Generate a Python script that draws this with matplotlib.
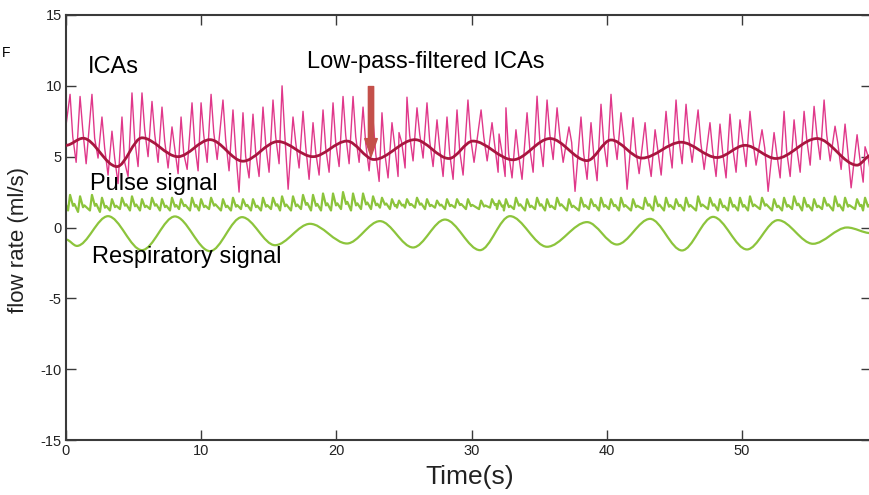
import matplotlib
matplotlib.use("Agg")
import matplotlib.pyplot as plt
from matplotlib.path import Path
from matplotlib.patches import PathPatch

plt.rcParams['font.family'] = ['Liberation Sans Narrow', 'Liberation Sans', 'DejaVu Sans']

# ---------------- data ----------------
# heart-beat (spike) times in seconds
beat_t = [0.30, 1.04, 1.92, 2.66, 3.40, 4.14, 4.88, 5.62, 6.36, 7.10, 7.84, 8.51, 9.32,
          9.99, 10.73, 11.61, 12.35, 13.09, 13.83, 14.57, 15.31, 15.98, 16.79, 17.53, 18.27, 19.01,
          19.75, 20.49, 21.23, 21.97, 22.71, 23.37, 24.11, 24.63, 25.22, 25.96, 26.70, 27.44, 28.18, 28.92,
          29.73, 30.70, 31.51, 32.03, 32.54, 33.28, 34.10, 34.84, 35.58, 36.32, 37.20, 38.09, 38.83,
          39.57, 40.31, 41.05, 41.94, 42.83, 43.57, 44.38, 45.12, 45.86, 46.75, 47.63, 48.37, 49.11,
          49.85, 50.59, 51.48, 52.37, 53.11, 53.85, 54.59, 55.33, 56.07, 56.88, 57.62, 58.51, 59.10]

ica_start = 7.2
ica_peak = [9.4, 9.25, 9.4, 7.8, 6.8, 7.8, 9.5, 9.5, 8.9, 8.5, 7.1, 7.8, 8.8,
            8.8, 9.4, 9.0, 8.3, 8.1, 8.0, 8.5, 9.0, 10.0, 7.8, 8.2, 7.4, 8.3,
            8.8, 9.25, 9.25, 8.5, 7.6, 8.1, 7.4, 6.7, 9.2, 8.45, 8.8, 7.6, 7.8, 8.3,
            9.0, 8.3, 7.4, 6.6, 8.45, 6.9, 8.1, 9.27, 9.0, 8.45, 7.1, 7.8, 7.4,
            8.7, 9.4, 8.1, 7.75, 7.4, 6.9, 8.2, 9.0, 8.7, 8.3, 7.4, 7.3, 8.0,
            7.6, 8.2, 6.9, 6.7, 8.2, 7.6, 8.2, 8.55, 9.0, 7.15, 7.3, 6.55, 5.7]
ica_mid = [6.4, 6.9, 6.3, 5.6, 4.9, 4.6, 6.2, 6.9, 6.6, 6.1, 5.6, 5.2, 5.9,
           6.5, 6.7, 6.2, 5.4, 5.0, 5.3, 5.9, 6.4, 6.6, 6.0, 5.7, 5.3, 5.6,
           6.0, 6.5, 6.4, 5.9, 5.2, 5.3, 5.8, 6.0, 6.5, 6.6, 6.1, 5.6, 5.2, 5.4,
           6.3, 6.4, 5.8, 5.4, 5.2, 5.1, 5.6, 6.2, 6.6, 6.5, 6.0, 5.2, 5.2,
           6.0, 6.6, 6.3, 5.5, 5.2, 5.5, 6.0, 6.3, 6.4, 6.0, 5.4, 5.3, 5.7,
           6.1, 6.2, 5.6, 5.2, 5.3, 5.6, 6.2, 6.6, 6.5, 6.0, 5.4, 4.9, 5.1]
ica_low = [4.6, 4.5, 4.9, 3.7, 3.1, 3.6, 4.3, 5.0, 4.6, 4.2, 3.8, 4.1, 4.0,
           4.6, 4.8, 4.0, 2.5, 3.5, 3.6, 3.9, 4.5, 2.7, 4.2, 3.4, 3.7, 3.9,
           4.3, 4.5, 4.6, 4.0, 3.25, 3.5, 3.6, 4.2, 4.7, 4.9, 4.3, 3.6, 3.4, 3.7,
           4.6, 4.7, 3.9, 3.6, 3.5, 3.4, 3.9, 4.3, 4.8, 4.6, 2.55, 3.4, 3.3,
           4.3, 4.8, 2.7, 3.8, 3.6, 3.7, 4.2, 4.5, 4.6, 4.1, 3.6, 3.5, 3.9,
           4.3, 4.4, 2.55, 3.5, 3.6, 3.9, 4.4, 4.8, 4.7, 4.1, 2.8, 3.2, 3.6]

pulse_start = 1.6
pulse_peak = [2.3, 2.2, 2.3, 2.1, 2.0, 2.1, 2.2, 2.0, 2.1, 2.0, 2.1, 2.0, 2.1,
              2.0, 2.1, 2.0, 2.1, 2.0, 2.0, 2.1, 2.1, 2.2, 2.2, 2.3, 2.3, 2.4,
              2.4, 2.5, 2.4, 2.4, 2.2, 2.1, 2.0, 1.9, 2.0, 2.1, 2.0, 1.9, 2.0, 2.0,
              2.0, 1.9, 2.0, 1.9, 2.0, 2.1, 2.0, 2.1, 2.0, 2.1, 2.0, 2.1, 2.0,
              2.1, 2.0, 2.1, 2.0, 2.1, 2.2, 2.1, 2.0, 2.1, 2.2, 2.1, 2.0, 2.1,
              2.1, 2.2, 2.1, 2.0, 2.1, 2.2, 2.1, 2.0, 2.1, 2.2, 2.1, 2.0, 2.1]
pulse_low = [1.2, 1.1, 1.2, 1.1, 1.2, 1.3, 1.2, 1.2, 1.3, 1.2, 1.2, 1.3, 1.2,
             1.2, 1.3, 1.2, 1.2, 1.3, 1.2, 1.2, 1.3, 1.2, 1.2, 1.3, 1.2, 1.2,
             1.2, 1.3, 1.2, 1.3, 1.3, 1.4, 1.3, 1.4, 1.4, 1.4, 1.3, 1.4, 1.3, 1.4,
             1.3, 1.3, 1.4, 1.3, 1.2, 1.3, 1.2, 1.3, 1.2, 1.3, 1.2, 1.2, 1.3,
             1.2, 1.3, 1.2, 1.2, 1.3, 1.2, 1.2, 1.3, 1.2, 1.2, 1.3, 1.2, 1.2,
             1.2, 1.2, 1.3, 1.2, 1.2, 1.3, 1.2, 1.2, 1.3, 1.2, 1.2, 1.3, 1.2]

# low-pass-filtered ICAs: turning points (s, ml/s)
lp_t = [0.0, 1.26, 3.77, 5.62, 8.28, 10.65, 13.09, 15.68, 18.27, 20.78, 22.78, 25.81, 28.33,
        30.10, 33.06, 35.80, 38.54, 40.31, 42.60, 45.49, 48.15, 50.22, 52.51, 55.55, 58.51, 59.54]
lp_v = [5.8, 6.3, 4.3, 6.33, 5.0, 6.2, 4.68, 6.07, 5.0, 6.1, 4.8, 6.2, 4.87,
        6.1, 4.78, 6.28, 4.72, 6.18, 4.9, 6.02, 4.94, 5.8, 4.87, 6.28, 4.4, 5.1]

# respiratory signal: turning points (s, ml/s)
resp_t = [0.0, 0.81, 3.11, 5.62, 8.06, 10.65, 13.02, 15.46, 18.05, 20.78, 23.22, 25.67, 28.03,
          30.62, 32.84, 35.58, 38.54, 40.75, 43.20, 45.56, 47.86, 50.37, 52.66, 55.25, 57.77, 59.54]
resp_v = [-0.85, -1.3, 0.8, -1.6, 0.78, -1.67, 0.73, -1.25, 0.26, -1.13, 0.45, -1.41, 0.56,
          -1.6, 0.8, -1.36, 0.38, -1.2, 0.61, -1.62, 0.75, -1.55, 0.52, -1.15, 0.0, -0.4]

x_ticks = [0, 10, 20, 30, 40, 50]
y_ticks = [-15, -10, -5, 0, 5, 10, 15]

# ---------------- styles ----------------
C_ICA = '#e0388a'
C_LP = '#a8163f'
C_GREEN = '#8cc43c'
C_ARROW = '#c4504a'
C_AX = '#3a3a3a'


def smooth_patch(ts, vs, color, lw, z):
    verts = [(ts[0], vs[0])]
    codes = [Path.MOVETO]
    for i in range(len(ts) - 1):
        d = ts[i + 1] - ts[i]
        verts += [(ts[i] + d / 3.0, vs[i]), (ts[i + 1] - d / 3.0, vs[i + 1]), (ts[i + 1], vs[i + 1])]
        codes += [Path.CURVE4] * 3
    return PathPatch(Path(verts, codes), fill=False, edgecolor=color, lw=lw,
                     capstyle='round', joinstyle='round', zorder=z)


fig = plt.figure(figsize=(8.69, 4.95), dpi=100)
ax = fig.add_axes([66 / 869, 1 - 440 / 495, 805 / 869, 425 / 495])

# ICA raw signal
ix, iy = [0.0], [ica_start]
for t, p, m, l in zip(beat_t, ica_peak, ica_mid, ica_low):
    ix += [t, t + 0.2, t + 0.45]
    iy += [p, m, l]
ax.plot(ix, iy, color=C_ICA, lw=1.0, zorder=2)

# pulse signal
px, py = [0.0], [pulse_start]
for t, p, l in zip(beat_t, pulse_peak, pulse_low):
    px += [t - 0.15, t, t + 0.22, t + 0.32]
    py += [l, p, l + 0.3 * (p - l), l + 0.42 * (p - l)]
ax.plot(px, py, color=C_GREEN, lw=1.6, zorder=2)

ax.add_patch(smooth_patch(lp_t, lp_v, C_LP, 2.0, 3))
ax.add_patch(smooth_patch(resp_t, resp_v, C_GREEN, 1.6, 2))

ax.set_xlim(0, 59.54)
ax.set_ylim(-15, 15)
ax.set_xticks(x_ticks)
ax.set_yticks(y_ticks)
ax.set_xticklabels([str(v) for v in x_ticks])
ax.set_yticklabels([str(v) for v in y_ticks])
ax.tick_params(direction='in', length=7, width=1.0, colors=C_AX, labelcolor='#222222',
               labelsize=10.5, top=True, right=True, pad=3)
for s in ax.spines.values():
    s.set_color(C_AX)
    s.set_linewidth(1.5)

ax.set_xlabel('Time(s)', fontsize=19, color='#222222')
ax.set_ylabel('flow rate (ml/s)', fontsize=16, color='#222222',
              family=['Liberation Sans', 'DejaVu Sans'])
ax.xaxis.set_label_coords(0.502, -0.058)
ax.yaxis.set_label_coords(-0.046, 0.47)

tf = ['Liberation Sans', 'DejaVu Sans']
fs = 17
ax.text(1.63, 11.36, 'ICAs', fontsize=fs, va='center', ha='left', family=tf, color='black')
ax.text(17.83, 11.7, 'Low-pass-filtered ICAs', fontsize=fs, va='center', ha='left', family=tf, color='black')
ax.text(1.78, 3.1, 'Pulse signal', fontsize=fs, va='center', ha='left', family=tf, color='black', zorder=5)
ax.text(1.92, -2.05, 'Respiratory signal', fontsize=fs, va='center', ha='left', family=tf, color='black', zorder=5)

ax.annotate('', xy=(22.56, 5.0), xytext=(22.56, 9.95),
            arrowprops=dict(arrowstyle='simple,head_width=0.9,head_length=1.3,tail_width=0.38',
                            color=C_ARROW, shrinkA=0, shrinkB=0, mutation_scale=10), zorder=6)

fig.text(2 / 869, 1 - 53 / 495, 'F', fontsize=10, va='center', ha='left', family=tf)

fig.savefig('out.png', dpi=100)
